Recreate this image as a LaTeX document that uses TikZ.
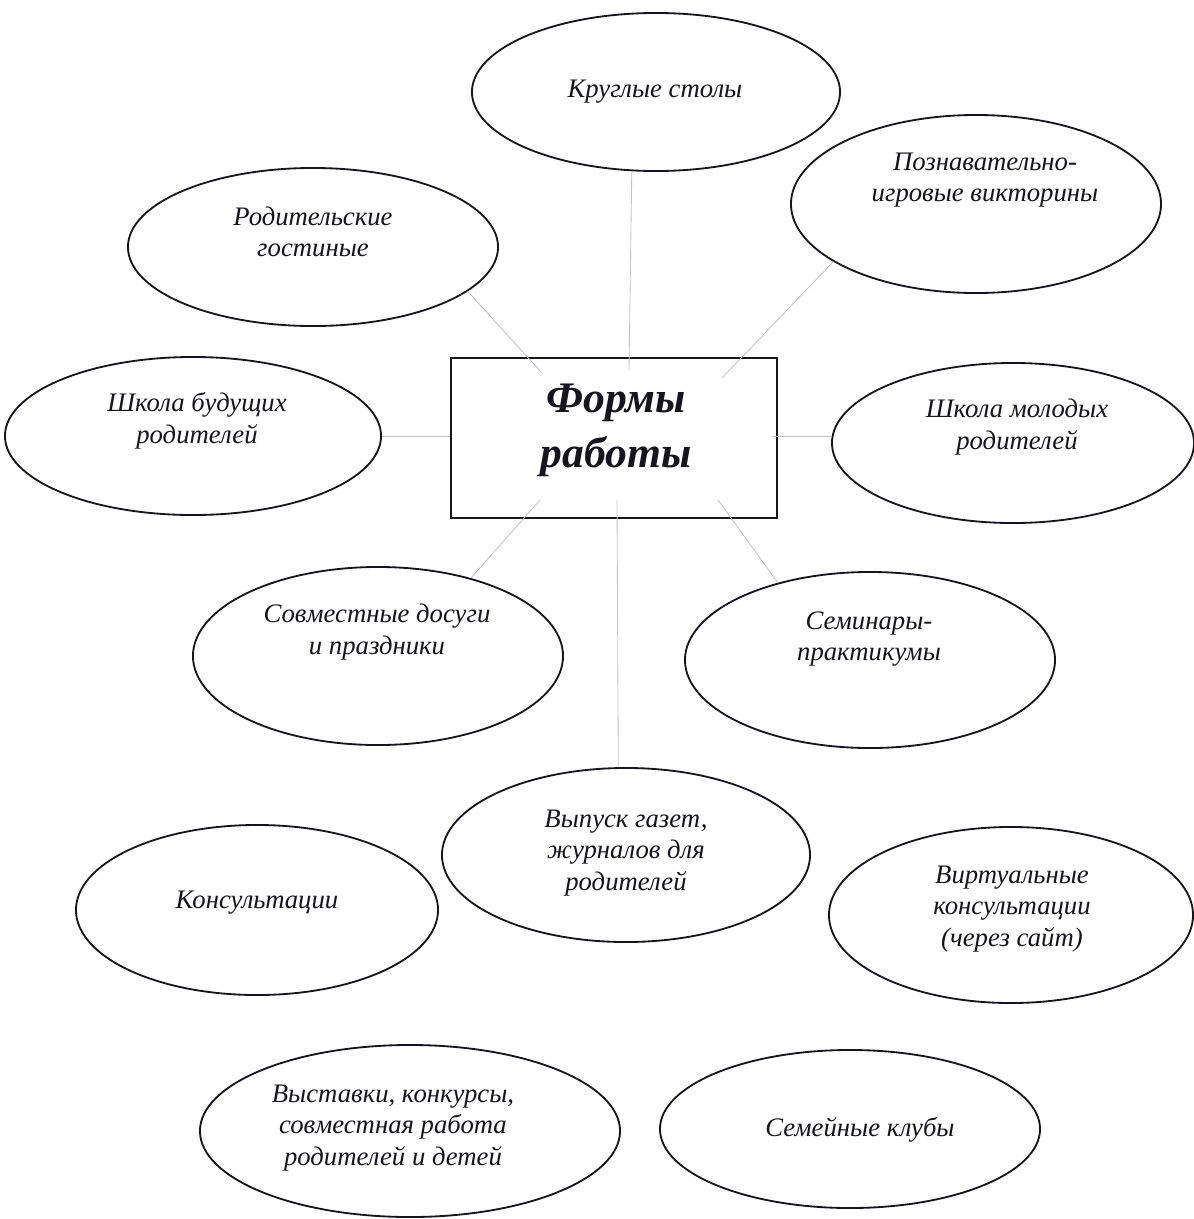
\documentclass[tikz,border=0pt]{standalone}
\usepackage{fontspec}
\setmainfont{Liberation Serif}
\usepackage{tikz}
\usetikzlibrary{shapes.geometric, calc}
\definecolor{inkdark}{HTML}{16141F}
\definecolor{linkgray}{HTML}{C4C4C4}
\tikzset{
	forma/.style={ellipse, draw=inkdark, line width=1.3pt, minimum width=9.2cm, minimum height=4.2cm, inner sep=0pt},
	formtext/.style={align=center, text=inkdark, inner sep=0pt, font=\itshape\fontsize{19}{22.5}\selectfont},
	glavnoe/.style={rectangle, draw=inkdark, line width=1.6pt, minimum width=8.15cm, minimum height=4cm, inner sep=0pt},
	glavtext/.style={align=center, text=inkdark, inner sep=0pt, font=\bfseries\itshape\fontsize{31}{39}\selectfont},
	link/.style={linkgray, line width=0.6pt}
}

\begin{document}
\begin{tikzpicture}[x=0.025cm, y=-0.025cm]
	\useasboundingbox[fill=white] (0,0) rectangle (1194,1219);

	% Центр
	\node[glavnoe] (glav) at (614,438) {};
	\node[glavtext] (glavT) at (616,430) {Формы\\работы};

	% Формы работы
	\node[forma, minimum width=9.2cm, minimum height=3.95cm] (krug) at (656,92) {};
	\node[formtext] (krugT) at (655,92) {Круглые столы};
	\node[forma, minimum width=9.25cm, minimum height=4.45cm] (pozn) at (976,204) {};
	\node[formtext] (poznT) at (985,180) {Познавательно-\\игровые викторины};
	\node[forma, minimum width=9.25cm, minimum height=3.95cm] (rod) at (313,247) {};
	\node[formtext] (rodT) at (313,232) {Родительские\\гостиные};
	\node[forma, minimum width=9.4cm, minimum height=3.95cm] (shbud) at (193,436) {};
	\node[formtext] (shbudT) at (197,421) {Школа будущих\\родителей};
	\node[forma, minimum width=9.05cm, minimum height=4cm] (shmol) at (1013,443) {};
	\node[formtext] (shmolT) at (1017,427) {Школа молодых\\родителей};
	\node[forma, minimum width=9.25cm, minimum height=4.45cm] (sovm) at (378,656) {};
	\node[formtext] (sovmT) at (377,632) {Совместные досуги\\и праздники};
	\node[forma, minimum width=9.25cm, minimum height=4.4cm] (semin) at (870,660) {};
	\node[formtext] (seminT) at (869,639) {Семинары-\\практикумы};
	\node[forma, minimum width=9.2cm, minimum height=4.35cm] (vyp) at (626,855) {};
	\node[formtext] (vypT) at (626,853) {Выпуск газет,\\журналов для\\родителей};
	\node[forma, minimum width=9.05cm, minimum height=4.25cm] (kons) at (257,910) {};
	\node[formtext] (konsT) at (257,903) {Консультации};
	\node[forma, minimum width=9.1cm, minimum height=4.4cm] (virt) at (1011,915) {};
	\node[formtext] (virtT) at (1012,909) {Виртуальные\\консультации\\(через сайт)};
	\node[forma, minimum width=10.5cm, minimum height=4.3cm] (vyst) at (410,1131) {};
	\node[formtext] (vystT) at (393,1128) {Выставки, конкурсы,\\совместная работа\\родителей и детей};
	\node[forma, minimum width=9.5cm, minimum height=3.95cm] (sem) at (850,1129) {};
	\node[formtext] (semT) at (860,1130) {Семейные клубы};

	% Связи
	\coordinate (pT) at (629,370);
	\coordinate (pUL) at (542,373);
	\coordinate (pUR) at (722,378);
	\coordinate (pR) at (772,436);
	\coordinate (pLL) at (540,500);
	\coordinate (pB) at (617,500);
	\coordinate (pLR) at (718,500);
	\draw[link] (pT) -- (krug.-107);
	\draw[link] (pUL) -- (rod.-16);
	\draw[link] (pUR) -- (pozn.-158);
	\draw[link] (shbud.east) -- (shbud.east -| glav.west);
	\draw[link] (pR) -- (pR -| shmol.west);
	\draw[link] (pLL) -- (sovm.40);
	\draw[link] (pB) -- (vyp.95);
	\draw[link] (pLR) -- (semin.140);
\end{tikzpicture}
\end{document}
